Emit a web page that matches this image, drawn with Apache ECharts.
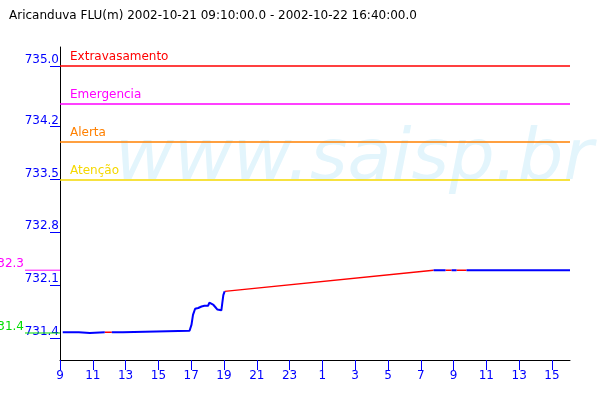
<!DOCTYPE html>
<html>
<head>
<meta charset="utf-8">
<script src="https://cdn.jsdelivr.net/npm/echarts@6/dist/echarts.min.js"></script>
<style>html,body{margin:0;padding:0;background:#fff;}#c{width:600px;height:400px;}</style>
</head>
<body>
<div id="c"></div>
<script>
// ---- data (hours since 2002-10-21 00:00) ----
const hours  = [9.1667, 10.15, 10.2, 10.82, 10.88, 11.73, 12.16, 12.83, 12.89, 16.9, 17.02, 17.11, 17.24, 17.43, 17.63, 17.81, 18.03, 18.11, 18.23, 18.36, 18.48, 18.6, 18.72, 18.84, 18.9, 18.96, 19.04, 31.78, 32.51, 32.88, 33.18, 33.79, 40.1];
const levels = [731.48, 731.48, 731.47, 731.47, 731.48, 731.48, 731.48, 731.48, 731.50, 731.50, 731.58, 731.71, 731.79, 731.80, 731.82, 731.83, 731.83, 731.87, 731.85, 731.84, 731.81, 731.78, 731.77, 731.77, 731.87, 731.97, 732.02, 732.30, 732.30, 732.30, 732.30, 732.30, 732.30];
// 'o' = observed segment from previous point, 'm' = missing (filled) segment from previous point
const status = ['o','o','o','o','o','o','m','o','o','o','o','o','o','o','o','o','o','o','o','o','o','o','o','o','o','o','o','m','o','m','o','m','o'];
const xTickHours = [9, 11, 13, 15, 17, 19, 21, 23, 25, 27, 29, 31, 33, 35, 37, 39];
const yTickValues = [731.4, 732.1, 732.8, 733.5, 734.2, 735.0];
const thresholdNames  = ['Extravasamento', 'Emergencia', 'Alerta', 'Atenção'];
const thresholdValues = [735.0, 734.5, 734.0, 733.5];
const refValues = [732.3, 731.47];
const titleText = 'Aricanduva FLU(m) 2002-10-21 09:10:00.0 - 2002-10-22 16:40:00.0';

// ---- styles ----
const FONT = 'DejaVu Sans';
const BLUE = '#0000ff';
const thresholdColors = ['#ff0000', '#ff00ff', '#ff8000', '#f5d800'];
const refColors = ['#ff00ff', '#00dd00'];
const Y_MIN = 731.113, Y_MAX = 735.25;

const blueData = [];
const redData = [];
for (let i = 0; i < hours.length; i++) {
  if (status[i] === 'm') {
    blueData.push(null);
    redData.push([hours[i-1], levels[i-1]], [hours[i], levels[i]], null);
  }
  blueData.push([hours[i], levels[i]]);
}

const trunc1 = v => (Math.floor(v * 10 + 1e-6) / 10).toFixed(1);

const refSeries = refValues.map((v, k) => ({
  type: 'line', xAxisIndex: 1, yAxisIndex: 1, silent: true,
  symbol: 'circle', symbolSize: 0.01, showSymbol: true,
  itemStyle: { color: refColors[k] },
  lineStyle: { color: refColors[k], width: 1 },
  label: { show: false },
  data: [
    { value: [25, v], label: { show: true, position: 'left', distance: 1, verticalAlign: 'bottom',
      formatter: () => trunc1(v), color: refColors[k], fontFamily: FONT, fontSize: 12 } },
    [60, v]
  ],
  z: 5
}));

const thresholdSeries = thresholdValues.map((v, k) => ({
  type: 'line', silent: true, data: [], symbol: 'none',
  itemStyle: { color: thresholdColors[k] },
  lineStyle: { color: thresholdColors[k] },
  markLine: {
    silent: true, symbol: ['none', 'none'],
    lineStyle: { color: thresholdColors[k], width: 1.5, type: 'solid', opacity: 1 },
    label: { show: true, position: 'insideStartTop', distance: [10, 3], formatter: thresholdNames[k],
      color: thresholdColors[k], fontFamily: FONT, fontSize: 12 },
    emphasis: { disabled: true },
    data: [{ yAxis: v }]
  },
  z: 3
}));

const chart = echarts.init(document.getElementById('c'), null, { renderer: 'canvas' });
chart.setOption({
  animation: false,
  backgroundColor: '#fff',
  title: { text: titleText, left: 4, top: 5, textStyle: { fontFamily: FONT, fontSize: 12, fontWeight: 'normal', color: '#000' } },
  graphic: [{
    type: 'text', x: 115, y: 196, z: -10, silent: true,
    style: { text: 'www.saisp.br', font: 'italic 72px "DejaVu Sans"', fill: '#e3f5fc', verticalAlign: 'bottom' }
  }],
  grid: [
    { left: 60, right: 30, top: 47, bottom: 40 },
    { left: 0, width: 60, top: 47, bottom: 40 }
  ],
  xAxis: [{
    type: 'value', min: 9, max: 40.1, gridIndex: 0,
    axisLine: { show: true, lineStyle: { color: '#000', width: 1 } },
    axisTick: { show: true, length: 10, customValues: xTickHours, lineStyle: { color: BLUE } },
    axisLabel: { customValues: xTickHours, margin: 10, color: BLUE, fontFamily: FONT, fontSize: 12,
      formatter: v => String(Math.round(v) % 24) },
    splitLine: { show: false }
  }, {
    type: 'value', min: 0, max: 60, gridIndex: 1, show: false
  }],
  yAxis: [{
    type: 'value', min: Y_MIN, max: Y_MAX, gridIndex: 0,
    axisLine: { show: true, lineStyle: { color: '#000', width: 1 } },
    axisTick: { show: true, length: 10, customValues: yTickValues, lineStyle: { color: BLUE } },
    axisLabel: { customValues: yTickValues, margin: 1, color: BLUE, fontFamily: FONT, fontSize: 12,
      verticalAlign: 'bottom', formatter: v => trunc1(v) },
    splitLine: { show: false }
  }, {
    type: 'value', min: Y_MIN, max: Y_MAX, gridIndex: 1, show: false
  }],
  series: [
    ...thresholdSeries,
    {
      type: 'line', data: redData, symbol: 'none', connectNulls: false,
      lineStyle: { color: '#ff0000', width: 1.5 }, z: 4
    },
    {
      type: 'line', data: blueData, symbol: 'none', connectNulls: false,
      lineStyle: { color: BLUE, width: 2 }, z: 5
    },
    ...refSeries
  ]
});
</script>
</body>
</html>
